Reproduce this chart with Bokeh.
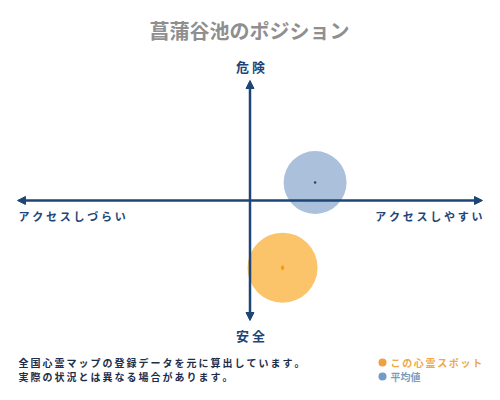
from bokeh.plotting import figure
from bokeh.models import Range1d, Arrow, NormalHead
from bokeh.core.properties import value
from bokeh.embed import file_html
from bokeh.resources import INLINE

# ---- data ----
title_text = "菖蒲谷池のポジション"
axis_top = "危 険"
axis_bottom = "安 全"
axis_left = "アクセスしづらい"
axis_right = "アクセスしやすい"
series_names = ["この心霊スポット", "平均値"]
access_values = [0.14, 0.28]     # x: accessibility (-1 .. 1)
danger_values = [-0.56, 0.15]    # y: danger (-1 .. 1)
footer_lines = ["全国心霊マップの登録データを元に算出しています。",
                "実際の状況とは異なる場合があります。"]

W, H = 484, 384
X0, X1 = -1.0731, 1.0086
Y0, Y1 = -1.5333, 1.6667

def px(sx):
    return X0 + sx / W * (X1 - X0)

def py(sy):
    return Y1 - sy / H * (Y1 - Y0)

JP = value("Noto Sans CJK JP")
NAVY = "#1d4677"
ORANGE = "#f9a825"
BLUE = "#abc0da"

def spaced(s, sep="\u2005"):
    return sep.join(list(s))

p = figure(width=W, height=H, output_backend="svg", toolbar_location=None,
           x_range=Range1d(X0, X1), y_range=Range1d(Y0, Y1),
           min_border=0, outline_line_color=None)
p.axis.visible = False
p.grid.visible = False
p.background_fill_color = "white"
p.border_fill_color = "white"

# average circle (opaque, under axes)
p.scatter([access_values[1]], [danger_values[1]], size=63, fill_color=BLUE,
          line_color=None)

# axes arrows
head = dict(size=8, fill_color=NAVY, line_color=NAVY)
p.add_layout(Arrow(end=NormalHead(**head), start=NormalHead(**head),
                   x_start=-1, y_start=0, x_end=1, y_end=0,
                   line_color=NAVY, line_width=2.5))
p.add_layout(Arrow(end=NormalHead(**head), start=NormalHead(**head),
                   x_start=0, y_start=-1, x_end=0, y_end=1,
                   line_color=NAVY, line_width=2.5))

# spot circle (translucent, over axes)
p.scatter([access_values[0]], [danger_values[0]], size=70, fill_color=ORANGE,
          fill_alpha=0.68, line_color=None)
p.scatter([access_values[0]], [danger_values[0]], size=6, marker="diamond",
          fill_color="#f39c12", line_color=None)
p.scatter([access_values[1]], [danger_values[1]], size=2.5, fill_color=NAVY,
          line_color=None)

# title
p.text([px(249)], [py(30)], text=[title_text], text_font=JP, text_font_size="20px",
       text_font_style="bold", text_color="#8f8f8f", text_align="center",
       text_baseline="middle")

# axis labels
p.text([px(250), px(250)], [py(66), py(335)], text=[axis_top, axis_bottom],
       text_font=JP, text_font_size="13px", text_font_style="bold",
       text_color=NAVY, text_align="center", text_baseline="middle")
p.text([px(18)], [py(215)], text=[spaced(axis_left)], text_font=JP,
       text_font_size="11px", text_font_style="bold", text_color=NAVY,
       text_align="left", text_baseline="middle")
p.text([px(482)], [py(215)], text=[spaced(axis_right)], text_font=JP,
       text_font_size="11px", text_font_style="bold", text_color=NAVY,
       text_align="right", text_baseline="middle")

# footer
p.text([px(18), px(18)], [py(362), py(376)],
       text=[spaced(footer_lines[0], "\u2009"), spaced(footer_lines[1], "\u2009")],
       text_font=JP, text_font_size="10px", text_font_style="bold",
       text_color="#1e2d4a", text_align="left", text_baseline="middle")

# legend
p.scatter([px(382), px(382)], [py(362), py(376)], size=8,
          fill_color=["#f0a040", "#6f9cc8"], line_color=None)
p.text([px(390)], [py(362)], text=[spaced(series_names[0], "\u2006")], text_font=JP,
       text_font_size="10px", text_font_style="bold", text_color="#f0a848",
       text_align="left", text_baseline="middle")
p.text([px(390)], [py(376)], text=[series_names[1]], text_font=JP,
       text_font_size="10px", text_font_style="bold", text_color="#7d9dc0",
       text_align="left", text_baseline="middle")

open("out.html", "w").write(file_html(p, INLINE))
